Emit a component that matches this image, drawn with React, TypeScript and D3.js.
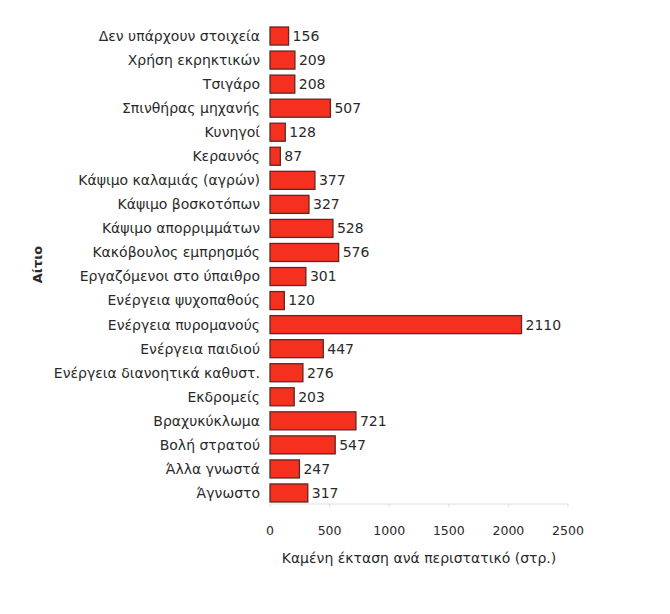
import React from "react";
import * as d3 from "d3";

const categories = [
  "Δεν υπάρχουν στοιχεία",
  "Χρήση εκρηκτικών",
  "Τσιγάρο",
  "Σπινθήρας μηχανής",
  "Κυνηγοί",
  "Κεραυνός",
  "Κάψιμο καλαμιάς (αγρών)",
  "Κάψιμο βοσκοτόπων",
  "Κάψιμο απορριμμάτων",
  "Κακόβουλος εμπρησμός",
  "Εργαζόμενοι στο ύπαιθρο",
  "Ενέργεια ψυχοπαθούς",
  "Ενέργεια πυρομανούς",
  "Ενέργεια παιδιού",
  "Ενέργεια διανοητικά καθυστ.",
  "Εκδρομείς",
  "Βραχυκύκλωμα",
  "Βολή στρατού",
  "Άλλα γνωστά",
  "Άγνωστο",
];
const values = [156, 209, 208, 507, 128, 87, 377, 327, 528, 576, 301, 120, 2110, 447, 276, 203, 721, 547, 247, 317];
const xTicks = [0, 500, 1000, 1500, 2000, 2500];
const xTitle = "Καμένη έκταση ανά περιστατικό (στρ.)";
const yTitle = "Αίτιο";

export default function App() {
  const W = 670, H = 614;
  const x = d3.scaleLinear().domain([0, 2500]).range([270, 568]);
  const y = d3.scaleBand<string>().domain(categories).range([24, 505]).paddingInner(0.25).paddingOuter(0.125);
  const axisY = 504;
  const font = "'DejaVu Sans', Verdana, sans-serif";
  const textCol = "#2a2a2a";
  return (
    <svg width={W} height={H} style={{ display: "block", margin: "-8px" }} fontFamily={font}>
      <rect width={W} height={H} fill="#fff" />
      <line x1={x(0)} x2={x(2500)} y1={axisY} y2={axisY} stroke="#ddd" strokeWidth={1} />
      {xTicks.map((t) => (
        <g key={t}>
          <line x1={x(t)} x2={x(t)} y1={axisY} y2={axisY + 3} stroke="#ddd" />
          <text x={x(t)} y={axisY + 31} textAnchor="middle" fontSize={12.5} fill={textCol}>{t}</text>
        </g>
      ))}
      {categories.map((c, i) => (
        <g key={c}>
          <text x={x(0) - 10} y={(y(c) as number) + y.bandwidth() / 2} dy="0.35em" textAnchor="end" fontSize={14} fill={textCol}>{c}</text>
          <rect x={x(0)} y={y(c)} width={x(values[i]) - x(0)} height={y.bandwidth()} fill="#f5301e" stroke="#5a2a25" strokeWidth={1.3} />
          <text x={x(values[i]) + 4} y={(y(c) as number) + y.bandwidth() / 2} dy="0.35em" fontSize={14} fill={textCol}>{values[i]}</text>
        </g>
      ))}
      <text x={x(1250)} y={axisY + 59} textAnchor="middle" fontSize={14} fill={textCol}>{xTitle}</text>
      <text transform={`translate(42,${(24 + 505) / 2}) rotate(-90)`} textAnchor="middle" fontSize={13} fontWeight="bold" fill={textCol}>{yTitle}</text>
    </svg>
  );
}
